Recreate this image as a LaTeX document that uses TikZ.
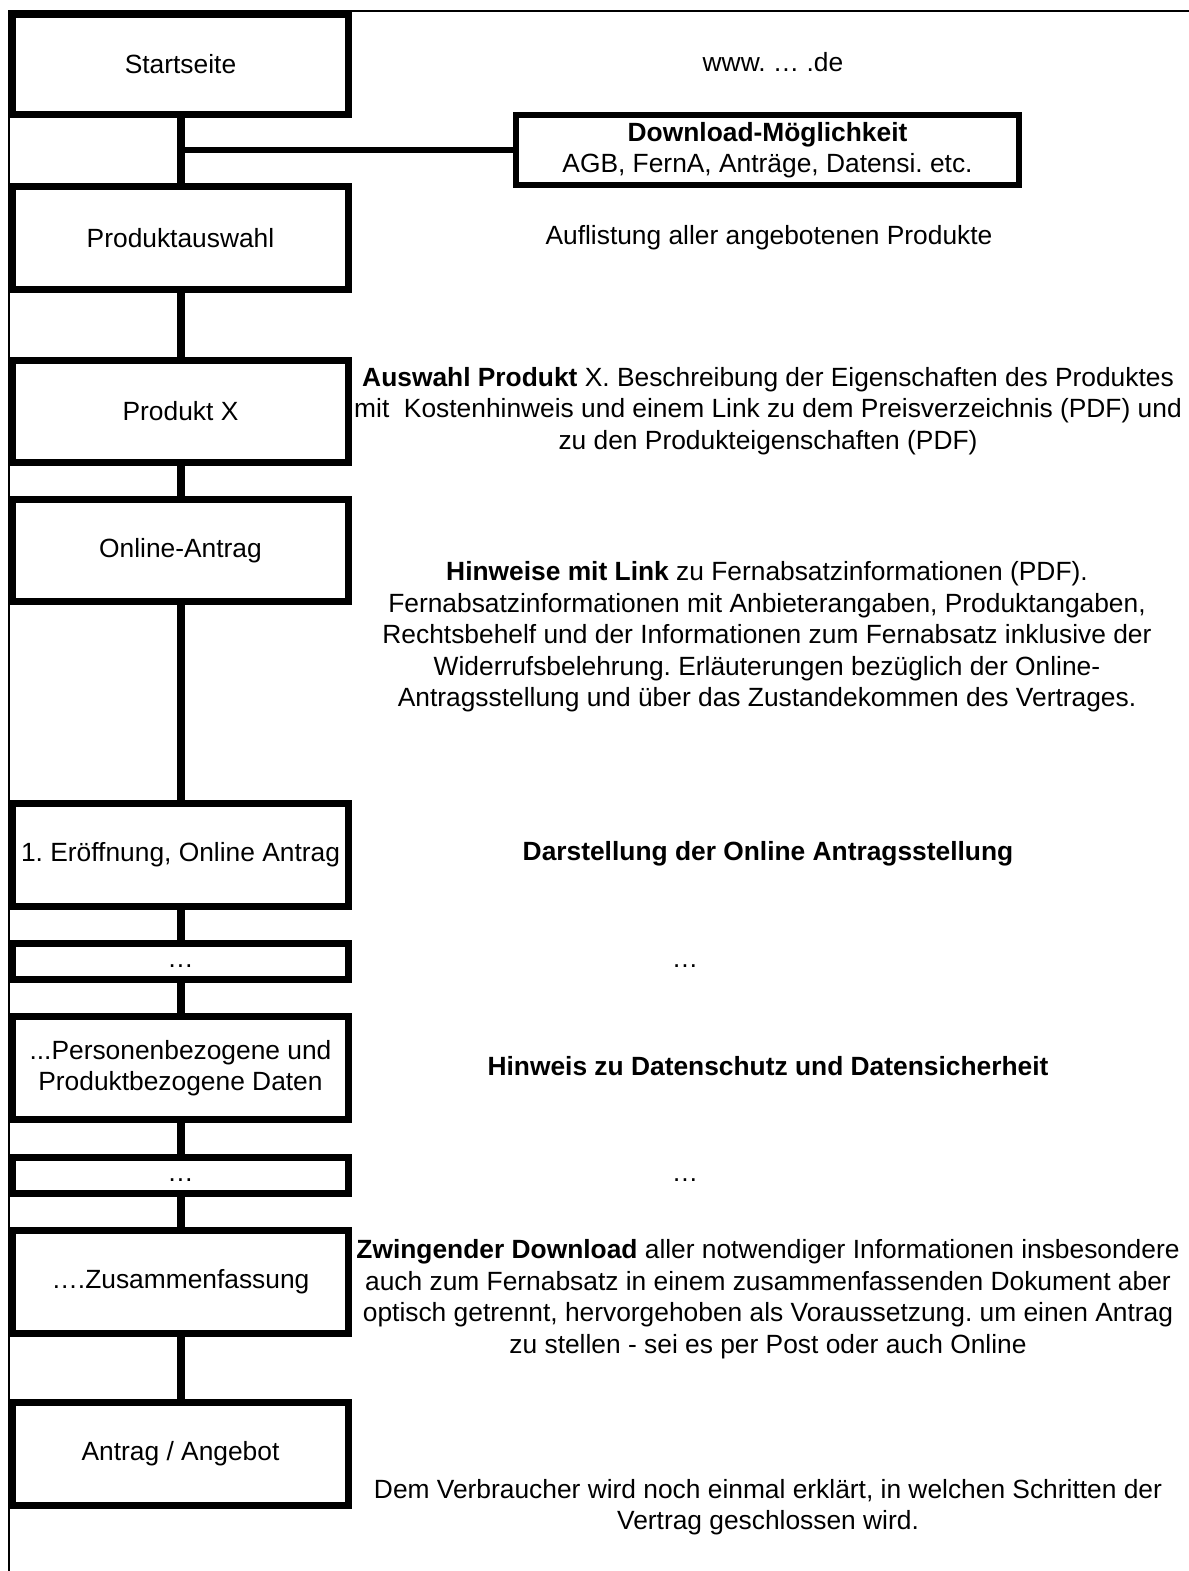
\documentclass[tikz,border=0pt]{standalone}
\usepackage{fontspec}
\setmainfont{Liberation Sans}
\usetikzlibrary{positioning}
\frenchspacing

\begin{document}
\begin{tikzpicture}[x=0.02cm, y=-0.02cm,
    every node/.style={font=\fontsize{15pt}{17.9pt}\selectfont},
    stepbox/.style={draw, line width=0.14cm, minimum width=6.74cm,
      minimum height=2.05cm, inner sep=0pt, align=center},
    dotbox/.style={stepbox, minimum height=0.72cm},
    info/.style={align=center, inner sep=0pt},
    link/.style={line width=0.16cm},
    branch/.style={line width=0.12cm},
    frame/.style={line width=0.04cm}]
    \useasboundingbox (0,0) rectangle (1189,1571);

    % Frame
    \draw[frame] (1189,11) -- (9,11) -- (9,1571);

    % Steps on the left
    \node[stepbox, minimum height=2cm] (start) at (180.5,64.5) {Startseite};
    \node[stepbox] (prod) at (180.5,238) {Produktauswahl};
    \node[stepbox] (prodx) at (180.5,411.5) {Produkt X};
    \node[stepbox] (antrag) at (180.5,550.5) {Online-Antrag};
    \node[stepbox] (eroeff) at (180.5,855) {1. Eröffnung, Online Antrag};
    \node[dotbox] (dotsa) at (180.5,961.5) {\strut…};
    \node[stepbox] (daten) at (180.5,1068) {...Personenbezogene und\\Produktbezogene Daten};
    \node[dotbox] (dotsb) at (180.5,1175) {\strut…};
    \node[stepbox] (summary) at (180.5,1282) {….Zusammenfassung};
    \node[stepbox] (offer) at (180.5,1454) {Antrag / Angebot};

    % Connectors
    \foreach \a/\b in {start/prod, prod/prodx, prodx/antrag, antrag/eroeff,
      eroeff/dotsa, dotsa/daten, daten/dotsb, dotsb/summary, summary/offer}
      \draw[link] (\a.south) -- (\b.north);

    % Download box
    \node[draw, line width=0.12cm, minimum width=10.06cm, minimum height=1.4cm,
      inner sep=0pt, align=center] (dl) at (767.5,150)
      {\textbf{Download-Möglichkeit}\\AGB, FernA, Anträge, Datensi. etc.};
    \draw[branch] (dl.west) -- (dl.west -| start.south);

    % Descriptions on the right
    \node[info] (url) at (773,62) {www. … .de};
    \node[info] (list) at (769,238) {Auflistung aller angebotenen Produkte};
    \node[info] (xinfo) at (768,411) {\textbf{Auswahl Produkt} X. Beschreibung der Eigenschaften des Produktes\\
      mit\ \ Kostenhinweis und einem Link zu dem Preisverzeichnis (PDF) und\\
      zu den Produkteigenschaften (PDF)};
    \node[info] (hint) at (767,637) {\textbf{Hinweise mit Link} zu Fernabsatzinformationen (PDF).\\
      Fernabsatzinformationen mit Anbieterangaben, Produktangaben,\\
      Rechtsbehelf und der Informationen zum Fernabsatz inklusive der\\
      Widerrufsbelehrung. Erläuterungen bezüglich der Online-\\
      Antragsstellung und über das Zustandekommen des Vertrages.};
    \node[info] (show) at (768,854) {\textbf{Darstellung der Online Antragsstellung}};
    \node[info] (dotsc) at (685,961.5) {\strut…};
    \node[info] (privacy) at (768,1066) {\textbf{Hinweis zu Datenschutz und Datensicherheit}};
    \node[info] (dotsd) at (685,1175) {\strut…};
    \node[info] (force) at (768,1299) {\textbf{Zwingender Download} aller notwendiger Informationen insbesondere\\
      auch zum Fernabsatz in einem zusammenfassenden Dokument aber\\
      optisch getrennt, hervorgehoben als Voraussetzung. um einen Antrag\\
      zu stellen - sei es per Post oder auch Online};
    \node[info] (explain) at (768,1507) {Dem Verbraucher wird noch einmal erklärt, in welchen Schritten der\\
      Vertrag geschlossen wird.};
\end{tikzpicture}
\end{document}
